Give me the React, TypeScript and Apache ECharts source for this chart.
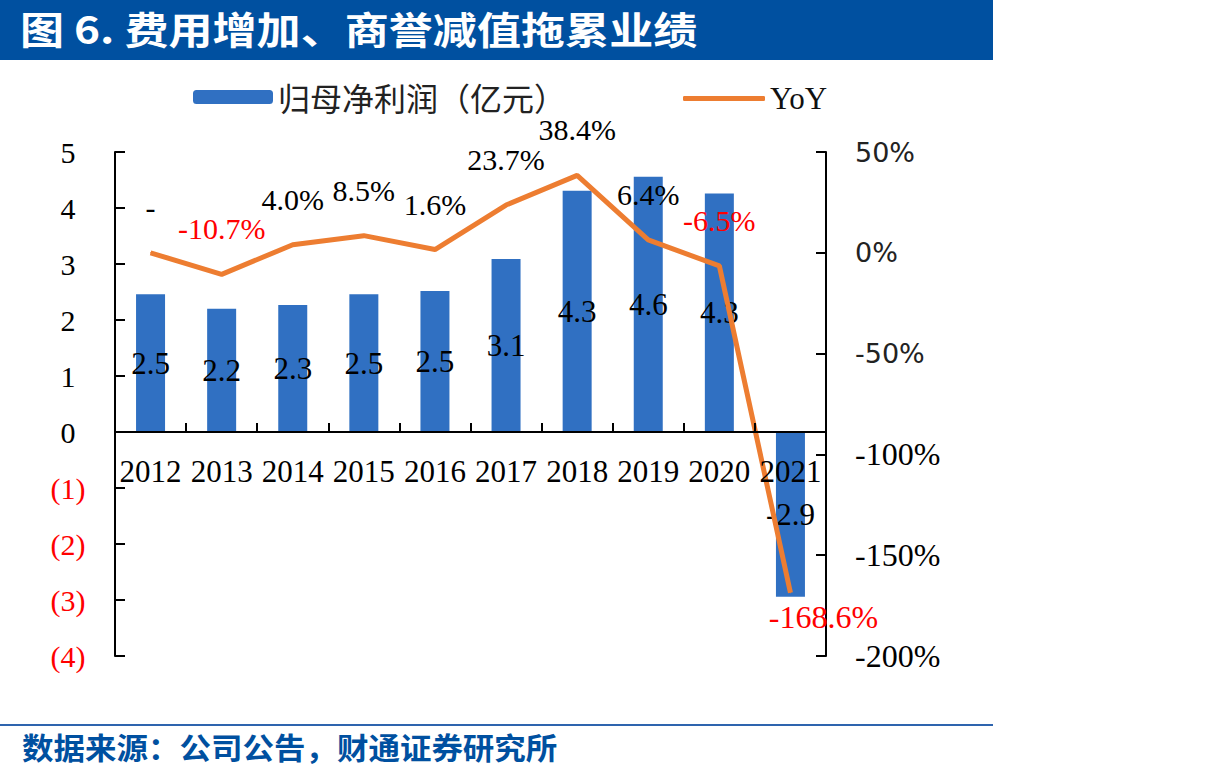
import React, { useEffect, useRef } from "react";
import * as echarts from "echarts";

const categories = ["2012", "2013", "2014", "2015", "2016", "2017", "2018", "2019", "2020", "2021"];
const profit = [2.46, 2.2, 2.27, 2.46, 2.52, 3.09, 4.31, 4.56, 4.26, -2.94];
const yoy = [0, -10.7, 4.0, 8.5, 1.6, 23.7, 38.4, 6.4, -6.5, -168.6];
const yoyLabels = ["-", "-10.7%", "4.0%", "8.5%", "1.6%", "23.7%", "38.4%", "6.4%", "-6.5%", "-168.6%"];
const leftTicks = ["(4)", "(3)", "(2)", "(1)", "0", "1", "2", "3", "4", "5"];

const TITLE = "图 6. 费用增加、商誉减值拖累业绩";
const SOURCE = "数据来源：公司公告，财通证券研究所";
const BAR_NAME = "归母净利润（亿元）";
const LINE_NAME = "YoY";

const SERIF = "'Liberation Serif', 'Times New Roman', serif";
const SANS = "'DejaVu Sans', 'Noto Sans', sans-serif";
const CJK = "'Noto Sans CJK SC', sans-serif";

export default function App() {
  const ref = useRef<HTMLDivElement>(null);
  useEffect(() => {
    if (!ref.current) return;
    const chart = echarts.init(ref.current, null, { renderer: "svg" });
    const last = yoy.length - 1;
    const option: any = {
      animation: false,
      backgroundColor: "#ffffff",
      graphic: [
        { type: "rect", shape: { x: 0, y: 0, width: 993, height: 60 }, style: { fill: "#0050A0" } },
        {
          type: "text",
          x: 20,
          y: 8,
          scaleX: 1.16,
          style: { text: TITLE, fill: "#ffffff", font: `bold 38px ${CJK}` },
        },
        { type: "rect", shape: { x: 0, y: 724, width: 993, height: 2 }, style: { fill: "#2E64AE" } },
        {
          type: "text",
          x: 22,
          y: 731,
          scaleX: 1.05,
          style: { text: SOURCE, fill: "#0050A0", font: `bold 30px ${CJK}` },
        },
      ],
      legend: [
        {
          left: 188,
          top: 76,
          itemWidth: 80,
          itemHeight: 14,
          data: [BAR_NAME],
          textStyle: { fontFamily: CJK, fontSize: 32, color: "#222" },
        },
        {
          left: 678,
          top: 78,
          itemWidth: 82,
          itemHeight: 5,
          data: [{ name: LINE_NAME, icon: "roundRect" }],
          textStyle: { fontFamily: SERIF, fontSize: 31, color: "#111" },
        },
      ],
      grid: { left: 115, right: 395, top: 152, bottom: 125 },
      xAxis: {
        type: "category",
        data: categories,
        z: 5,
        axisLine: { onZero: true, lineStyle: { color: "#000", width: 2 } },
        axisTick: { show: true, inside: true, length: 9, alignWithLabel: false, lineStyle: { color: "#000", width: 2 } },
        axisLabel: { fontFamily: SERIF, fontSize: 31, color: "#000", margin: -200, interval: 0 },
      },
      yAxis: [
        {
          type: "value",
          min: -4,
          max: 5,
          interval: 1,
          splitLine: { show: false },
          axisLine: { show: true, lineStyle: { color: "#000", width: 2 } },
          axisTick: { show: true, inside: true, length: 10, lineStyle: { color: "#000", width: 2 } },
          axisLabel: {
            margin: 47,
            align: "center",
            fontFamily: SERIF,
            fontSize: 30,
            formatter: (v: number) => leftTicks[Math.round(v) + 4],
            color: (v: any) => (Number(v) < 0 ? "#FF0000" : "#000"),
          },
        },
        {
          type: "value",
          min: -200,
          max: 50,
          interval: 50,
          position: "right",
          splitLine: { show: false },
          axisLine: { show: true, lineStyle: { color: "#000", width: 2 } },
          axisTick: { show: true, inside: true, length: 10, lineStyle: { color: "#000", width: 2 } },
          axisLabel: {
            margin: 29,
            align: "left",
            color: "#000",
            formatter: (v: number) => (v >= -50 ? `{s|${v}%}` : `{t|${v}%}`),
            rich: {
              s: { fontFamily: SANS, fontSize: 27, color: "#222" },
              t: { fontFamily: SERIF, fontSize: 32, color: "#000" },
            },
          },
        },
      ],
      series: [
        {
          name: BAR_NAME,
          type: "bar",
          yAxisIndex: 0,
          barWidth: 29,
          data: profit,
          itemStyle: { color: "#3070C2" },
          label: {
            show: true,
            position: "inside",
            fontFamily: SERIF,
            fontSize: 31,
            color: "#000",
            formatter: (p: any) => Number(p.value).toFixed(1),
          },
          z: 2,
        },
        {
          name: LINE_NAME,
          type: "line",
          yAxisIndex: 1,
          symbol: "circle",
          symbolSize: 1,
          showSymbol: true,
          lineStyle: { color: "#ED7D31", width: 5 },
          itemStyle: { color: "#ED7D31" },
          data: yoy.map((v, i) => ({
            value: v,
            label: {
              show: true,
              position: i === last ? "bottom" : "top",
              distance: i === last ? 8 : 30,
              offset: i === last ? [33, 0] : [0, 0],
              formatter: yoyLabels[i],
              color: v < 0 ? "#FF0000" : "#000",
              fontFamily: SERIF,
              fontSize: i === last ? 32 : 30,
            },
          })),
          z: 3,
        },
      ],
    };
    chart.setOption(option);
    return () => chart.dispose();
  }, []);
  return <div ref={ref} style={{ width: 1221, height: 781, position: "absolute", left: 0, top: 0 }} />;
}
